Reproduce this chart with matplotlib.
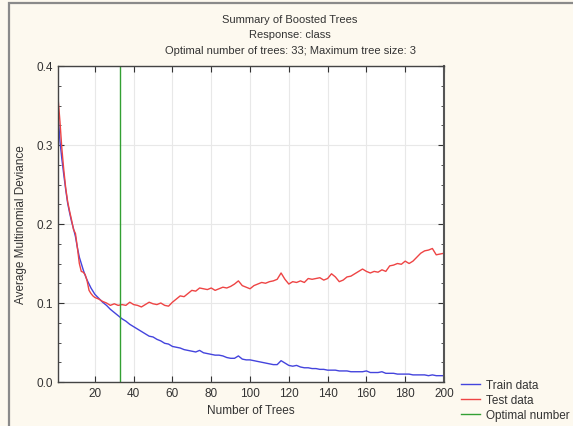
import numpy as np
import matplotlib
matplotlib.use("Agg")
import matplotlib.pyplot as plt
from matplotlib.ticker import MultipleLocator
from matplotlib.patches import Rectangle

plt.rcParams['font.family'] = ['Liberation Sans', 'DejaVu Sans']

# number of trees
trees = [1, 2, 3, 4, 5, 6, 7, 8, 9, 10, 11, 12, 13, 14, 15, 16, 17, 18, 19, 20,
         22, 24, 26, 28, 30, 32, 34, 36, 38, 40, 42, 44, 46, 48, 50, 52, 54, 56, 58, 60,
         62, 64, 66, 68, 70, 72, 74, 76, 78, 80, 82, 84, 86, 88, 90, 92, 94, 96, 98, 100,
         102, 104, 106, 108, 110, 112, 114, 116, 118, 120, 122, 124, 126, 128, 130, 132, 134, 136, 138, 140,
         142, 144, 146, 148, 150, 152, 154, 156, 158, 160, 162, 164, 166, 168, 170, 172, 174, 176, 178, 180,
         182, 184, 186, 188, 190, 192, 194, 196, 198, 200]

train = [0.340, 0.305, 0.282, 0.262, 0.243, 0.226, 0.214, 0.203, 0.194, 0.184,
         0.170, 0.158, 0.150, 0.142, 0.135, 0.129, 0.124, 0.119, 0.115, 0.111,
         0.106, 0.101, 0.097, 0.092, 0.088, 0.084, 0.080, 0.077, 0.073, 0.070,
         0.067, 0.064, 0.061, 0.058, 0.057, 0.054, 0.052, 0.049, 0.048, 0.045,
         0.044, 0.043, 0.041, 0.040, 0.039, 0.038, 0.040, 0.037, 0.036, 0.035,
         0.034, 0.034, 0.033, 0.031, 0.030, 0.030, 0.033, 0.029, 0.028, 0.028,
         0.027, 0.026, 0.025, 0.024, 0.023, 0.022, 0.022, 0.027, 0.024, 0.021,
         0.020, 0.021, 0.019, 0.018, 0.018, 0.017, 0.017, 0.016, 0.016, 0.015,
         0.015, 0.015, 0.014, 0.014, 0.014, 0.013, 0.013, 0.013, 0.013, 0.014,
         0.012, 0.012, 0.012, 0.013, 0.011, 0.011, 0.011, 0.010, 0.010, 0.010,
         0.010, 0.009, 0.009, 0.009, 0.009, 0.008, 0.009, 0.008, 0.008, 0.008]

test = [0.360, 0.330, 0.295, 0.268, 0.245, 0.228, 0.216, 0.205, 0.193, 0.188,
        0.170, 0.150, 0.140, 0.139, 0.136, 0.128, 0.116, 0.112, 0.109, 0.107,
        0.105, 0.102, 0.100, 0.097, 0.099, 0.097, 0.098, 0.097, 0.101, 0.098,
        0.097, 0.095, 0.098, 0.101, 0.099, 0.098, 0.100, 0.097, 0.096, 0.101,
        0.105, 0.109, 0.108, 0.112, 0.116, 0.115, 0.119, 0.118, 0.117, 0.119,
        0.116, 0.118, 0.120, 0.119, 0.121, 0.124, 0.128, 0.122, 0.120, 0.118,
        0.122, 0.124, 0.126, 0.125, 0.127, 0.128, 0.130, 0.138, 0.130, 0.124,
        0.127, 0.126, 0.128, 0.126, 0.131, 0.130, 0.131, 0.132, 0.129, 0.131,
        0.137, 0.133, 0.127, 0.129, 0.133, 0.134, 0.137, 0.140, 0.143, 0.140,
        0.138, 0.140, 0.139, 0.142, 0.140, 0.147, 0.148, 0.150, 0.149, 0.153,
        0.150, 0.153, 0.158, 0.163, 0.166, 0.167, 0.169, 0.161, 0.162, 0.163]

optimal = 33
title_lines = ["Summary of Boosted Trees", "Response: class",
               "Optimal number of trees: 33; Maximum tree size: 3"]

W, H = 573, 427
fig = plt.figure(figsize=(W / 100, H / 100), dpi=100)
fig.patch.set_facecolor('#fdf9ef')

# gray frame round the panel
fig.patches.append(Rectangle((8.5 / W, -0.1), 1.0, 1.1 - 4.5 / H, transform=fig.transFigure,
                             fill=False, edgecolor='#8a8a8a', linewidth=1.6))

ax = fig.add_axes([58 / W, (H - 383) / H, (444 - 58) / W, (383 - 67) / H])
ax.set_facecolor('white')

ax.plot(trees, train, color='#4444dd', linewidth=1.0, label='Train data')
ax.plot(trees, test, color='#ee4444', linewidth=1.0, label='Test data')
ax.axvline(optimal, color='#33a033', linewidth=1.0, label='Optimal number')

ax.set_xlim(1, 200)
ax.set_ylim(0.0, 0.4)
ax.set_xticks(np.arange(20, 201, 20))
ax.set_yticks([0.0, 0.1, 0.2, 0.3, 0.4])
ax.yaxis.set_minor_locator(MultipleLocator(0.025))
ax.set_yticklabels(['0.0', '0.1', '0.2', '0.3', '0.4'])
ax.grid(True, which='major', color='#e8e8e8', linewidth=0.8)
ax.set_axisbelow(True)
ax.tick_params(which='both', direction='in', top=True, right=True,
               labelsize=8.5, colors='#333333', labelcolor='#333333')
ax.tick_params(which='major', length=4)
ax.tick_params(which='minor', length=2)
for sp in ax.spines.values():
  sp.set_color('#444444')
  sp.set_linewidth(1.0)
ax.spines['right'].set_linewidth(1.5)
ax.spines['right'].set_color('#555555')

ax.set_xlabel('Number of Trees', fontsize=8.5, color='#333333', labelpad=4)
ax.set_ylabel('Average Multinomial Deviance', fontsize=8.5, color='#333333', labelpad=7)

for i, line in enumerate(title_lines):
  fig.text(290 / W, 1 - (20 + 15.5 * i) / H, line, ha='center', va='center',
           fontsize=8, color='#333333')

fig.legend(loc='center left', bbox_to_anchor=(455 / W, 1 - 401 / H), frameon=False,
           fontsize=8.5, handlelength=1.6, handletextpad=0.5, labelspacing=0.25,
           borderpad=0, labelcolor='#333333')

fig.savefig('out.png', dpi=100, facecolor=fig.get_facecolor())
